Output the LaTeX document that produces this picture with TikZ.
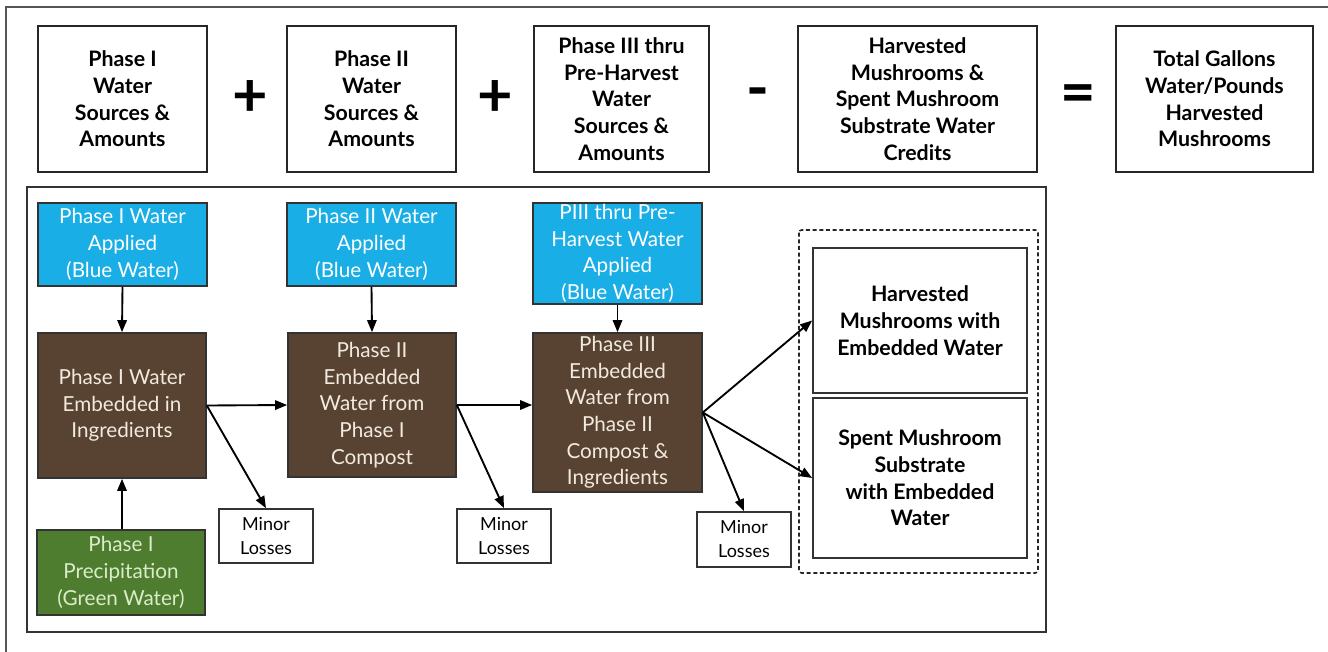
\documentclass[tikz,border=0pt]{standalone}
\usepackage{fontspec}
\setmainfont{Lato}
\usetikzlibrary{arrows.meta}
\definecolor{bluew}{HTML}{19AEE6}
\definecolor{brownw}{HTML}{584333}
\definecolor{greenw}{HTML}{4F7D2F}
\definecolor{creamw}{HTML}{F2EADF}
\definecolor{framegray}{HTML}{555555}
\begin{document}
\begin{tikzpicture}[x=0.75pt,y=-0.75pt,
  sz/.style 2 args={minimum width=#1*0.75pt, minimum height=#2*0.75pt},
  base/.style={inner sep=0pt, align=center, line width=1.2pt},
  topbox/.style={base, draw=black!85, font=\fontsize{16}{20}\selectfont\bfseries},
  bluebox/.style={base, draw=black!80, fill=bluew, text=white, font=\fontsize{15.5}{20}\selectfont},
  brownbox/.style={base, draw=black!80, fill=brownw, text=creamw, font=\fontsize{15.5}{20}\selectfont},
  greenbox/.style={base, draw=black!80, fill=greenw, text=creamw!90!green, font=\fontsize{15.5}{20}\selectfont},
  lossbox/.style={base, draw=black!80, fill=white, font=\fontsize{13.5}{18}\selectfont},
  outbox/.style={base, draw=black!80, line width=1.3pt, font=\fontsize{16}{20}\selectfont\bfseries},
  op/.style={inner sep=0pt, font=\fontsize{46}{46}\selectfont\bfseries},
  arr/.style={-{Triangle[length=9pt,width=7pt]}, line width=1.4pt, black}
]
\useasboundingbox (0,0) rectangle (1328,652);
\clip (0,0) rectangle (1328,652);
% outer frame (cropped)
\draw[framegray, line width=1.6pt] (1340,7) -- (6,7) -- (6,665);
% top equation row
\node[topbox, sz={169}{146}] (t1) at (122.5,99) {Phase I\\Water\\Sources \&\\Amounts};
\node[op] (p1) at (250,99) {+};
\node[topbox, sz={169}{146}] (t2) at (371.5,99) {Phase II\\Water\\Sources \&\\Amounts};
\node[op] (p2) at (495,99) {+};
\node[topbox, sz={175}{146}] (t3) at (621.5,99) {Phase III thru\\Pre-Harvest\\Water\\Sources \&\\Amounts};
\node[op] (p3) at (758,99) {-};
\node[topbox, sz={239}{146}] (t4) at (917.5,99) {Harvested\\Mushrooms \&\\Spent Mushroom\\Substrate Water\\Credits};
\node[op] (p4) at (1078,99) {=};
\node[topbox, sz={197}{146}] (t5) at (1214.5,99) {Total Gallons\\Water/Pounds\\Harvested\\Mushrooms};
% inner frame
\draw[framegray!60!black, line width=1.3pt] (27,187) rectangle (1046,632);
% dashed group
\draw[black!85, line width=1.2pt, dash pattern=on 3pt off 2pt, rounded corners=2pt] (799,230) rectangle (1038,573);
% blue boxes
\node[bluebox, sz={169}{83}] (b1) at (122.5,244.5) {Phase I Water\\Applied\\(Blue Water)};
\node[bluebox, sz={169}{83}] (b2) at (371.5,244.5) {Phase II Water\\Applied\\(Blue Water)};
\node[bluebox, sz={169}{101}] (b3) at (617.5,253.5) {PIII thru Pre-\\Harvest Water\\Applied\\(Blue Water)};
% brown boxes
\node[brownbox, sz={168}{145}] (r1) at (122,405.5) {Phase I Water\\Embedded in\\Ingredients};
\node[brownbox, sz={168}{144}] (r2) at (372,405) {Phase II\\Embedded\\Water from\\Phase I\\Compost};
\node[brownbox, sz={169}{159}] (r3) at (617.5,412.5) {Phase III\\Embedded\\Water from\\Phase II\\Compost \&\\Ingredients};
% green box
\node[greenbox, sz={168}{85}] (g1) at (121,572.5) {Phase I\\Precipitation\\(Green Water)};
% losses
\node[lossbox, sz={94}{54}] (m1) at (266,536) {Minor\\Losses};
\node[lossbox, sz={94}{54}] (m2) at (504,536) {Minor\\Losses};
\node[lossbox, sz={94}{55}] (m3) at (744,539.5) {Minor\\Losses};
% outputs
\node[outbox, sz={214}{145}] (h1) at (920,320.5) {Harvested\\Mushrooms with\\Embedded Water};
\node[outbox, sz={214}{160}] (s1) at (920,478) {Spent Mushroom\\Substrate\\with Embedded\\Water};
% connectors
\draw[arr] (b1.south) -- (r1.north);
\draw[arr] (b2.south) -- (r2.north);
\draw[arr] (b3.south) -- (r3.north);
\draw[arr] (g1.north -| r1.south) -- (r1.south);
\draw[arr] (r1.east) -- (r2.west);
\draw[arr] (r2.east) -- (r3.west |- r2.east);
\draw[arr] (r1.east) -- (m1.north);
\draw[arr] (r2.east) -- (m2.north);
\draw[arr] (r3.east) -- (m3.north);
\draw[arr] (r3.east) -- (h1.west);
\draw[arr] (r3.east) -- (s1.west);
\end{tikzpicture}
\end{document}
